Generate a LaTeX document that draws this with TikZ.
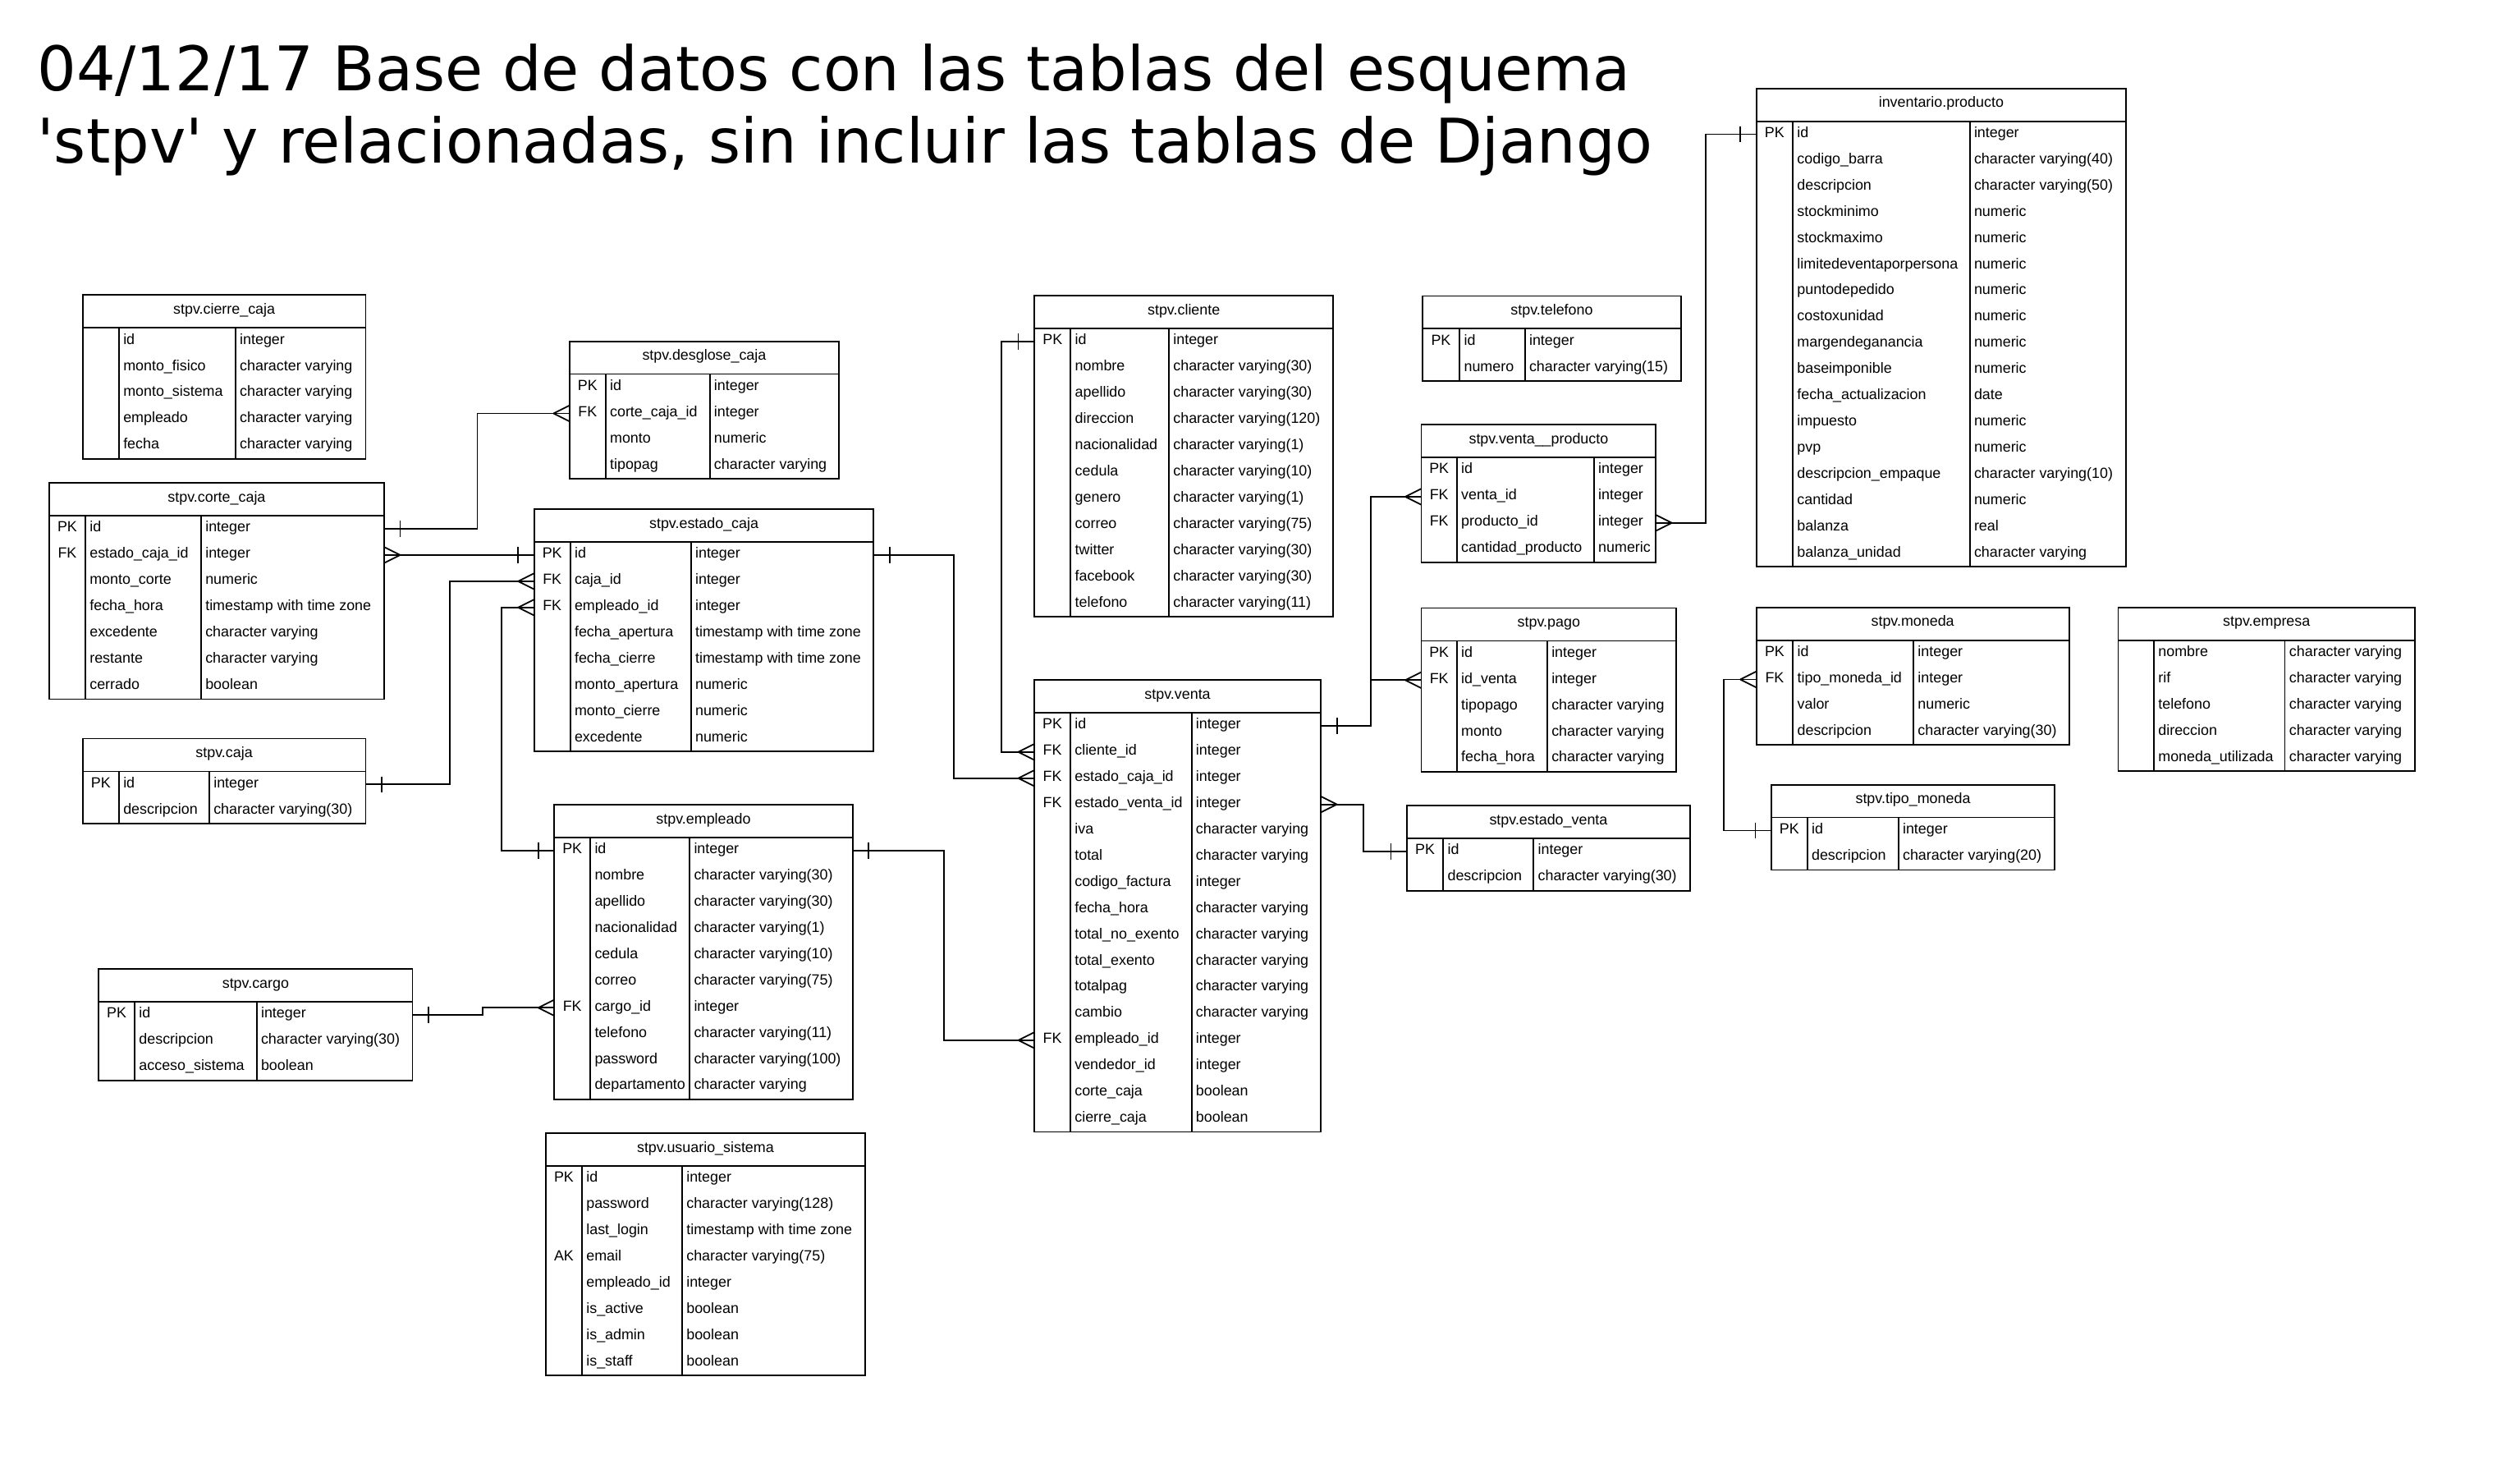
\documentclass[tikz,border=0pt]{standalone}
\usepackage{fontspec}
\setmainfont{Liberation Sans}
\newfontfamily\titulofont{DejaVu Sans}

\tikzset{
  linea/.style={line width=1.3pt},
  rel/.style={line width=1.3pt},
  cabecera/.style={draw, line width=1.3pt, inner sep=0pt, outer sep=0pt, minimum height=1.02cm, text height=9.3pt, text depth=4.5pt},
  fila/.style={inner sep=0pt, outer sep=0pt, minimum height=0.815cm},
  clave/.style={anchor=base, inner sep=0pt},
  campo/.style={anchor=base west, inner sep=0pt},
  titulo/.style={anchor=base west, inner sep=0pt, font=\titulofont\fontsize{54.5}{64}\selectfont}
}

\newcommand{\ertabla}[8]{%
  \pgfmathsetmacro{\anchotab}{#4+#5+#6}
  \node[cabecera, minimum width=\anchotab*0.05cm, anchor=north west] (#1) at (#2,#3) {#7};
  \foreach \llave/\campo/\tipo [count=\nfila] in {#8} {
    \node[fila, minimum width=\anchotab*0.05cm, anchor=north west] (#1-\nfila) at (#2,{#3+20.4+(\nfila-1)*16.3}) {};
    \node[clave] (#1-\nfila-k) at ({#2+#4/2},{#3+20.4+(\nfila-0.5)*16.3+2}) {\llave};
    \node[campo] (#1-\nfila-c) at ({#2+#4+2.6},{#3+20.4+(\nfila-0.5)*16.3+2}) {\campo};
    \node[campo] (#1-\nfila-t) at ({#2+#4+#5+2.6},{#3+20.4+(\nfila-0.5)*16.3+2}) {\tipo};
    \xdef\totfilas{\nfila}
  }
  \draw[linea] (#2,{#3+20.4}) rectangle ({#2+\anchotab},{#3+20.4+\totfilas*16.3});
  \draw[linea] ({#2+#4},{#3+20.4}) -- ({#2+#4},{#3+20.4+\totfilas*16.3});
  \draw[linea] ({#2+#4+#5},{#3+20.4}) -- ({#2+#4+#5},{#3+20.4+\totfilas*16.3});
}
\newcommand{\crowl}[1]{\draw[rel] (#1) ++(-10,0) -- ++(10,-5) ++(-10,5) -- ++(10,5);}
\newcommand{\crowr}[1]{\draw[rel] (#1) ++(10,0) -- ++(-10,-5) ++(10,5) -- ++(-10,5);}
\newcommand{\barl}[1]{\draw[rel] (#1) ++(-10,-5) -- ++(0,10);}
\newcommand{\barr}[1]{\draw[rel] (#1) ++(10,-5) -- ++(0,10);}

\begin{document}
\begin{tikzpicture}[x=0.05cm, y=-0.05cm, font=\fontsize{13}{15.6}\selectfont]
\fill[white] (0,0) rectangle (1568,919.3);
\useasboundingbox (0,0) rectangle (1568,919.3);

\node[titulo] (titulo1) at (23,56.5) {04/12/17 Base de datos con las tablas del esquema};
\node[titulo] (titulo2) at (23,101.3) {\textquotesingle stpv\textquotesingle\ y relacionadas, sin incluir las tablas de Django};

\ertabla{cierre}{51.5}{183.5}{22.5}{72.5}{81}{stpv.cierre\_caja}{{}/id/integer, {}/monto\_fisico/character varying, {}/monto\_sistema/character varying, {}/empleado/character varying, {}/fecha/character varying}
\ertabla{corte}{30.6}{300.4}{22.5}{72}{113.9}{stpv.corte\_caja}{PK/id/integer, FK/estado\_caja\_id/integer, {}/monto\_corte/numeric, {}/fecha\_hora/timestamp with time zone, {}/excedente/character varying, {}/restante/character varying, {}/cerrado/boolean}
\ertabla{caja}{51.5}{459.4}{22.5}{56.2}{97.3}{stpv.caja}{PK/id/integer, {}/descripcion/character varying(30)}
\ertabla{desglose}{354.4}{212.3}{22.4}{64.8}{80.4}{stpv.desglose\_caja}{PK/id/integer, FK/corte\_caja\_id/integer, {}/monto/numeric, {}/tipopag/character varying}
\ertabla{ecaja}{332.4}{316.7}{22.4}{75.1}{113.7}{stpv.estado\_caja}{PK/id/integer, FK/caja\_id/integer, FK/empleado\_id/integer, {}/fecha\_apertura/timestamp with time zone, {}/fecha\_cierre/timestamp with time zone, {}/monto\_apertura/numeric, {}/monto\_cierre/numeric, {}/excedente/numeric}
\ertabla{empleado}{344.9}{500.5}{22.4}{61.8}{101.4}{stpv.empleado}{PK/id/integer, {}/nombre/character varying(30), {}/apellido/character varying(30), {}/nacionalidad/character varying(1), {}/cedula/character varying(10), {}/correo/character varying(75), FK/cargo\_id/integer, {}/telefono/character varying(11), {}/password/character varying(100), {}/departamento/character varying}
\ertabla{cargo}{61.4}{602.7}{22.4}{75.9}{97}{stpv.cargo}{PK/id/integer, {}/descripcion/character varying(30), {}/acceso\_sistema/boolean}
\ertabla{usuario}{339.6}{704.8}{22.5}{62.3}{113.9}{stpv.usuario\_sistema}{PK/id/integer, {}/password/character varying(128), {}/last\_login/timestamp with time zone, AK/email/character varying(75), {}/empleado\_id/integer, {}/is\_active/boolean, {}/is\_admin/boolean, {}/is\_staff/boolean}
\ertabla{cliente}{643.6}{183.9}{22.6}{61.1}{102.3}{stpv.cliente}{PK/id/integer, {}/nombre/character varying(30), {}/apellido/character varying(30), {}/direccion/character varying(120), {}/nacionalidad/character varying(1), {}/cedula/character varying(10), {}/genero/character varying(1), {}/correo/character varying(75), {}/twitter/character varying(30), {}/facebook/character varying(30), {}/telefono/character varying(11)}
\ertabla{venta}{643.6}{422.9}{22.4}{75.4}{80.4}{stpv.venta}{PK/id/integer, FK/cliente\_id/integer, FK/estado\_caja\_id/integer, FK/estado\_venta\_id/integer, {}/iva/character varying, {}/total/character varying, {}/codigo\_factura/integer, {}/fecha\_hora/character varying, {}/total\_no\_exento/character varying, {}/total\_exento/character varying, {}/totalpag/character varying, {}/cambio/character varying, FK/empleado\_id/integer, {}/vendedor\_id/integer, {}/corte\_caja/boolean, {}/cierre\_caja/boolean}
\ertabla{telefono}{885}{184.1}{23.2}{40.6}{97.3}{stpv.telefono}{PK/id/integer, {}/numero/character varying(15)}
\ertabla{vprod}{884.4}{264.1}{22.1}{85.3}{38.5}{stpv.venta\_\_producto}{PK/id/integer, FK/venta\_id/integer, FK/producto\_id/integer, {}/cantidad\_producto/numeric}
\ertabla{pago}{884.4}{378.2}{22.1}{56.2}{80.3}{stpv.pago}{PK/id/integer, FK/id\_venta/integer, {}/tipopago/character varying, {}/monto/character varying, {}/fecha\_hora/character varying}
\ertabla{eventa}{875.4}{501.0}{22.6}{56.2}{97.4}{stpv.estado\_venta}{PK/id/integer, {}/descripcion/character varying(30)}
\ertabla{inv}{1092.8}{55.0}{22.7}{110.1}{97.3}{inventario.producto}{PK/id/integer, {}/codigo\_barra/character varying(40), {}/descripcion/character varying(50), {}/stockminimo/numeric, {}/stockmaximo/numeric, {}/limitedeventaporpersona/numeric, {}/puntodepedido/numeric, {}/costoxunidad/numeric, {}/margendeganancia/numeric, {}/baseimponible/numeric, {}/fecha\_actualizacion/date, {}/impuesto/numeric, {}/pvp/numeric, {}/descripcion\_empaque/character varying(10), {}/cantidad/numeric, {}/balanza/real, {}/balanza\_unidad/character varying}
\ertabla{moneda}{1092.8}{377.8}{22.8}{75}{96.8}{stpv.moneda}{PK/id/integer, FK/tipo\_moneda\_id/integer, {}/valor/numeric, {}/descripcion/character varying(30)}
\ertabla{tmoneda}{1102.2}{488.1}{22.3}{56.7}{97.2}{stpv.tipo\_moneda}{PK/id/integer, {}/descripcion/character varying(20)}
\ertabla{empresa}{1318}{377.8}{22.2}{81.5}{80.9}{stpv.empresa}{{}/nombre/character varying, {}/rif/character varying, {}/telefono/character varying, {}/direccion/character varying, {}/moneda\_utilizada/character varying}

\draw[rel] (corte-1.east) -- ++(58,0) |- (desglose-2.west);
\barr{corte-1.east} \crowl{desglose-2.west}
\draw[rel] (corte-2.east) -- (ecaja-1.west);
\crowr{corte-2.east} \barl{ecaja-1.west}
\draw[rel] (caja-1.east) -- ++(52.2,0) |- (ecaja-2.west);
\barr{caja-1.east} \crowl{ecaja-2.west}
\draw[rel] (empleado-1.west) -- ++(-33,0) |- (ecaja-3.west);
\barl{empleado-1.west} \crowl{ecaja-3.west}
\draw[rel] (cargo-1.east) -- ++(43.8,0) |- (empleado-7.west);
\barr{cargo-1.east} \crowl{empleado-7.west}
\draw[rel] (ecaja-1.east) -- ++(50,0) |- (venta-3.west);
\barr{ecaja-1.east} \crowl{venta-3.west}
\draw[rel] (cliente-1.west) -- ++(-20.5,0) |- (venta-2.west);
\barl{cliente-1.west} \crowl{venta-2.west}
\draw[rel] (empleado-1.east) -- ++(57,0) |- (venta-13.west);
\barr{empleado-1.east} \crowl{venta-13.west}
\draw[rel] (venta-1.east) -- ++(31.1,0) |- (vprod-2.west);
\draw[rel] (venta-1.east) -- ++(31.1,0) |- (pago-2.west);
\barr{venta-1.east} \crowl{vprod-2.west} \crowl{pago-2.west}
\draw[rel] (venta-4.east) -- ++(26.7,0) |- (eventa-1.west);
\crowr{venta-4.east} \barl{eventa-1.west}
\draw[rel] (vprod-3.east) -- ++(31,0) |- (inv-1.west);
\crowr{vprod-3.east} \barl{inv-1.west}
\draw[rel] (moneda-2.west) -- ++(-20.2,0) |- (tmoneda-1.west);
\crowl{moneda-2.west} \barl{tmoneda-1.west}
\end{tikzpicture}
\end{document}
